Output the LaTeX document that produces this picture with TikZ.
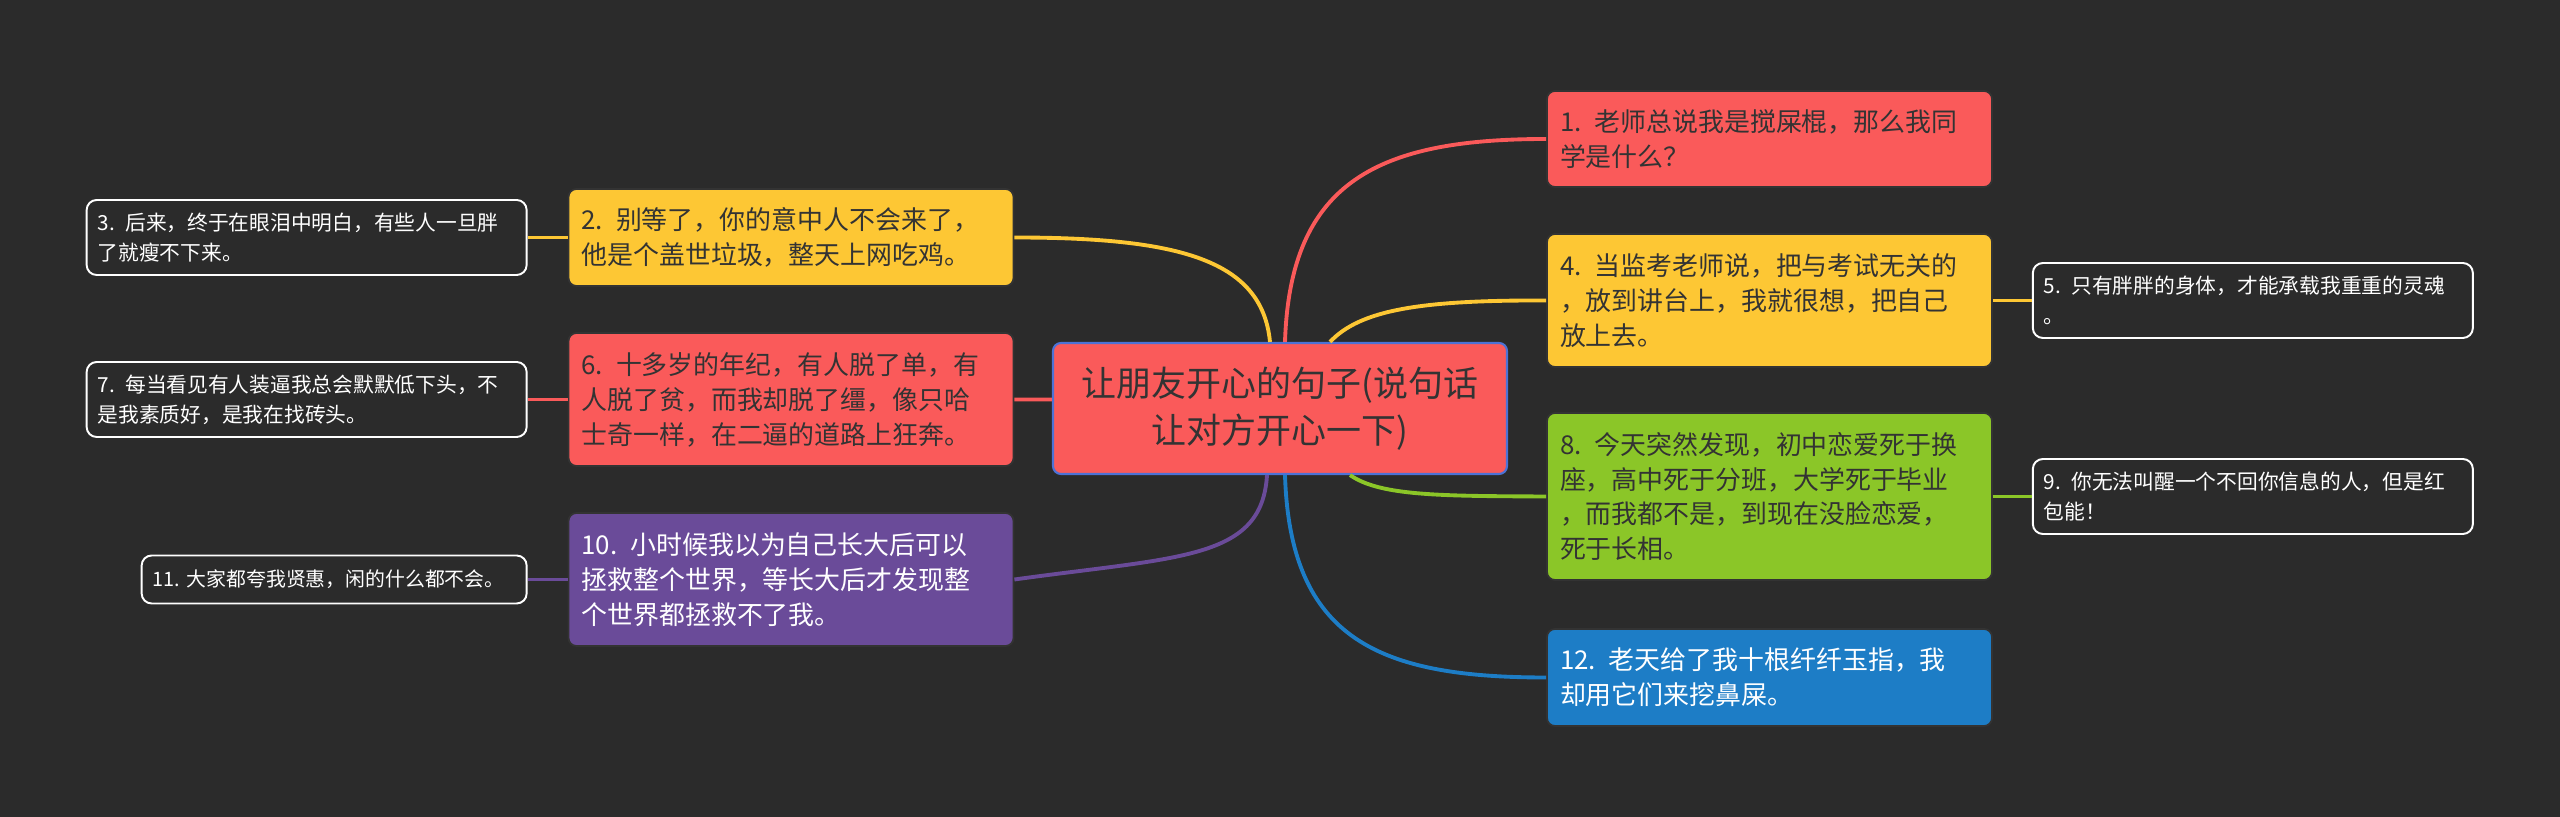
\documentclass[tikz,border=0pt]{standalone}
\usepackage{fontspec}
\setmainfont{Noto Sans CJK SC}[WordSpace=0.35]
\usetikzlibrary{positioning}
\definecolor{bgdark}{HTML}{2B2B2B}
\definecolor{redc}{HTML}{FA5A5A}
\definecolor{yellowc}{HTML}{FDC734}
\definecolor{greenc}{HTML}{8BC628}
\definecolor{bluec}{HTML}{1D7DC6}
\definecolor{purplec}{HTML}{6A4B99}
\definecolor{rootline}{HTML}{4C72D6}
\definecolor{textdark}{HTML}{333333}
\newcommand\rootsize{\fontsize{19.9pt}{26.7pt}\selectfont}
\newcommand\mainsize{\fontsize{14.75pt}{19.9pt}\selectfont}
\newcommand\leafsize{\fontsize{11.8pt}{17.1pt}\selectfont}

\begin{document}
\begin{tikzpicture}[
  rootbox/.style={rectangle,rounded corners=0.16cm,draw=rootline,line width=1.2pt,fill=redc,minimum width=9.08cm,minimum height=2.62cm,align=center,font=\rootsize,text=textdark},
  mainbox/.style={rectangle,rounded corners=0.16cm,draw=black!80,line width=1pt,inner xsep=0.26cm,inner ysep=0pt,text width=8.38cm,align=left,font=\mainsize,text=textdark},
  leafbox/.style={rectangle,rounded corners=0.2cm,draw=white,line width=1.1pt,fill=bgdark,inner xsep=0.22cm,inner ysep=0pt,text width=8.36cm,minimum height=1.5cm,align=left,font=\leafsize,text=white},
  link/.style={line width=2.2pt},
  leaflink/.style={line width=1.7pt}]
\useasboundingbox (0,0) rectangle (51.2,16.34);
\fill[bgdark] (0,0) rectangle (51.2,16.34);

\node[rootbox] (root) at (25.6,8.17) {让朋友开心的句子(说句话\\让对方开心一下)};

\node[mainbox,fill=redc,minimum height=1.92cm] (q1) at (35.39,13.56) {1. 老师总说我是搅屎棍，那么我同\\学是什么？};
\node[mainbox,fill=yellowc,minimum height=2.66cm] (q4) at (35.39,10.33) {4. 当监考老师说，把与考试无关的\\，放到讲台上，我就很想，把自己\\放上去。};
\node[mainbox,fill=greenc,minimum height=3.34cm] (q8) at (35.39,6.41) {8. 今天突然发现，初中恋爱死于换\\座，高中死于分班，大学死于毕业\\，而我都不是，到现在没脸恋爱，\\死于长相。};
\node[mainbox,fill=bluec,text=white,minimum height=1.94cm] (q12) at (35.39,2.79) {12. 老天给了我十根纤纤玉指，我\\却用它们来挖鼻屎。};
\node[mainbox,fill=yellowc,minimum height=1.94cm] (q2) at (15.82,11.59) {2. 别等了，你的意中人不会来了，\\他是个盖世垃圾，整天上网吃鸡。};
\node[mainbox,fill=redc,minimum height=2.66cm] (q6) at (15.82,8.35) {6. 十多岁的年纪，有人脱了单，有\\人脱了贫，而我却脱了缰，像只哈\\士奇一样，在二逼的道路上狂奔。};
\node[mainbox,fill=purplec,text=white,minimum height=2.66cm] (q10) at (15.82,4.75) {10. 小时候我以为自己长大后可以\\拯救整个世界，等长大后才发现整\\个世界都拯救不了我。};

\node[leafbox,left=0.8cm of q2] (q3) {3. 后来，终于在眼泪中明白，有些人一旦胖\\了就瘦不下来。};
\node[leafbox,left=0.8cm of q6] (q7) {7. 每当看见有人装逼我总会默默低下头，不\\是我素质好，是我在找砖头。};
\node[leafbox,left=0.8cm of q10,text width=7.26cm,minimum height=0.96cm,font=\fontsize{11.3pt}{17.1pt}\selectfont] (q11) {11.~大家都夸我贤惠，闲的什么都不会。};
\node[leafbox,right=0.78cm of q4] (q5) {5. 只有胖胖的身体，才能承载我重重的灵魂\\。};
\node[leafbox,right=0.78cm of q8] (q9) {9. 你无法叫醒一个不回你信息的人，但是红\\包能！};

\draw[link,redc] ([xshift=0.1cm]root.north) .. controls (25.8,12.74) and (27.6,13.56) .. (q1.west);
\draw[link,yellowc] ([xshift=1cm]root.north) .. controls (27.2,10.14) and (28.4,10.34) .. (q4.west);
\draw[link,greenc] ([xshift=1.4cm]root.south) .. controls (27.6,6.42) and (28.8,6.42) .. (q8.west);
\draw[link,bluec] ([xshift=0.1cm]root.south) .. controls (25.8,3.54) and (27.6,2.79) .. (q12.west);
\draw[link,yellowc] ([xshift=-0.2cm]root.north) .. controls (25.24,11.14) and (23.6,11.59) .. (q2.east);
\draw[link,redc] ([yshift=0.18cm]root.west) -- (q6.east);
\draw[link,purplec] ([xshift=-0.26cm]root.south) .. controls (25.24,5.14) and (23.6,5.21) .. (q10.east);

\draw[leaflink,yellowc] (q2.west) -- (q3.east);
\draw[leaflink,redc] (q6.west) -- (q7.east);
\draw[leaflink,purplec] (q10.west) -- (q11.east);
\draw[leaflink,yellowc] (q4.east) -- (q5.west);
\draw[leaflink,greenc] (q8.east) -- (q9.west);

\end{tikzpicture}
\end{document}
